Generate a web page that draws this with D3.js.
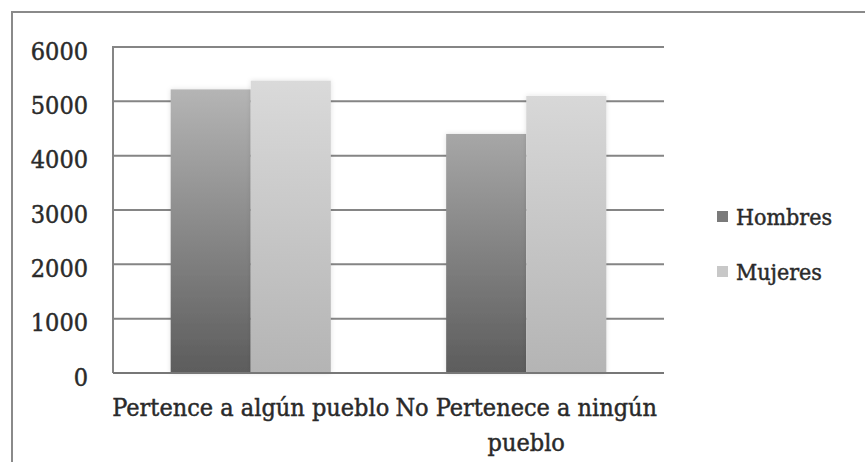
<!DOCTYPE html>
<html>
<head>
<meta charset="utf-8">
<script src="https://cdn.jsdelivr.net/npm/d3@7"></script>
<style>
  html, body { margin: 0; padding: 0; background: #fff; }
  svg { display: block; }
  text { font-family: "DejaVu Serif Condensed", "DejaVu Serif", serif; font-stretch: condensed; fill: #2a2a2a; stroke: #2a2a2a; stroke-width: 0.45px; }
</style>
</head>
<body>
<svg id="chart" width="865" height="462"></svg>
<script>
const categories = ["Pertence a algún pueblo", "No Pertenece a ningún pueblo"];
const seriesNames = ["Hombres", "Mujeres"];
const hombres = [5220, 4400];
const mujeres = [5380, 5100];
const yTicks = [0, 1000, 2000, 3000, 4000, 5000, 6000];

const seriesValues = { Hombres: hombres, Mujeres: mujeres };
const gradients = {
  Hombres: { top: "#c2c2c2", bottom: "#5c5c5c" },
  Mujeres: { top: "#dedede", bottom: "#b4b4b4" }
};
const legendSwatch = { Hombres: "#7a7a7a", Mujeres: "#c8c8c8" };

const W = 865, H = 462;
const plot = { left: 113, right: 664, top: 47, bottom: 373 };

const svg = d3.select("#chart");
const defs = svg.append("defs");

seriesNames.forEach(name => {
  const g = defs.append("linearGradient")
    .attr("id", "grad-" + name)
    .attr("gradientUnits", "userSpaceOnUse")
    .attr("x1", 0).attr("x2", 0)
    .attr("y1", plot.bottom).attr("y2", plot.top);
  g.append("stop").attr("offset", "0%").attr("stop-color", gradients[name].bottom);
  g.append("stop").attr("offset", "100%").attr("stop-color", gradients[name].top);
});

const shadow = defs.append("filter").attr("id", "shadow")
  .attr("x", "-20%").attr("y", "-20%").attr("width", "140%").attr("height", "140%");
shadow.append("feGaussianBlur").attr("in", "SourceAlpha").attr("stdDeviation", 2.5).attr("result", "blur");
shadow.append("feFlood").attr("flood-color", "#000").attr("flood-opacity", 0.12).attr("result", "col");
shadow.append("feComposite").attr("in", "col").attr("in2", "blur").attr("operator", "in").attr("result", "sh");
const merge = shadow.append("feMerge");
merge.append("feMergeNode").attr("in", "sh");
merge.append("feMergeNode").attr("in", "SourceGraphic");

// outer border (left and top visible)
svg.append("path")
  .attr("d", `M12,${H} L12,12 L${W},12`)
  .attr("fill", "none").attr("stroke", "#8a8a8a").attr("stroke-width", 2);

const y = d3.scaleLinear().domain([0, 6000]).range([plot.bottom, plot.top]);
const x0 = d3.scaleBand().domain(categories).range([plot.left, plot.right]).padding(0);
const x1 = d3.scaleBand().domain(seriesNames).range([0, x0.bandwidth()]).paddingInner(0).paddingOuter(0.72);

// gridlines
svg.append("g").selectAll("line").data(yTicks.filter(d => d > 0)).join("line")
  .attr("x1", plot.left).attr("x2", plot.right)
  .attr("y1", d => y(d)).attr("y2", d => y(d))
  .attr("stroke", "#858585").attr("stroke-width", 2);

// y axis line
svg.append("line")
  .attr("x1", plot.left).attr("x2", plot.left)
  .attr("y1", plot.top - 1).attr("y2", plot.bottom)
  .attr("stroke", "#858585").attr("stroke-width", 2);

// bars
const groups = svg.append("g").selectAll("g").data(categories).join("g")
  .attr("transform", d => `translate(${x0(d)},0)`);
groups.selectAll("rect")
  .data((c, i) => seriesNames.map(s => ({ s, v: seriesValues[s][i] })))
  .join("rect")
  .attr("x", d => x1(d.s))
  .attr("width", x1.bandwidth())
  .attr("y", d => y(d.v))
  .attr("height", d => y(0) - y(d.v))
  .attr("fill", d => `url(#grad-${d.s})`)
  .attr("filter", "url(#shadow)");

// x axis baseline
svg.append("line")
  .attr("x1", plot.left).attr("x2", plot.right)
  .attr("y1", plot.bottom).attr("y2", plot.bottom)
  .attr("stroke", "#777").attr("stroke-width", 2);

// y tick labels
svg.append("g").selectAll("text").data(yTicks).join("text")
  .attr("x", 88).attr("y", d => y(d) + 4)
  .attr("text-anchor", "end").attr("dominant-baseline", "central")
  .attr("font-size", 25)
  .text(d => d);

// category labels with wrapping
function wrapLines(text, maxW, size) {
  const tmp = svg.append("text").attr("font-size", size);
  const words = text.split(" ");
  const lines = [];
  let cur = [];
  words.forEach(w => {
    cur.push(w);
    tmp.text(cur.join(" "));
    if (tmp.node().getComputedTextLength() > maxW && cur.length > 1) {
      cur.pop();
      lines.push(cur.join(" "));
      cur = [w];
    }
  });
  lines.push(cur.join(" "));
  tmp.remove();
  return lines;
}
const catSize = 25;
categories.forEach(c => {
  const lines = wrapLines(c, 300, catSize);
  const t = svg.append("text")
    .attr("text-anchor", "middle")
    .attr("font-size", catSize)
    .attr("x", x0(c) + x0.bandwidth() / 2)
    .attr("y", 416);
  lines.forEach((ln, i) => {
    t.append("tspan").attr("x", x0(c) + x0.bandwidth() / 2).attr("dy", i === 0 ? 0 : 35).text(ln);
  });
});

// legend
const legend = svg.append("g").selectAll("g").data(seriesNames).join("g")
  .attr("transform", (d, i) => `translate(717, ${217 + i * 55})`);
legend.append("rect")
  .attr("x", 0).attr("y", -6).attr("width", 11).attr("height", 11)
  .attr("fill", d => legendSwatch[d]);
legend.append("text")
  .attr("x", 19).attr("y", 0)
  .attr("dominant-baseline", "central")
  .attr("font-size", 23)
  .text(d => d);
</script>
</body>
</html>
